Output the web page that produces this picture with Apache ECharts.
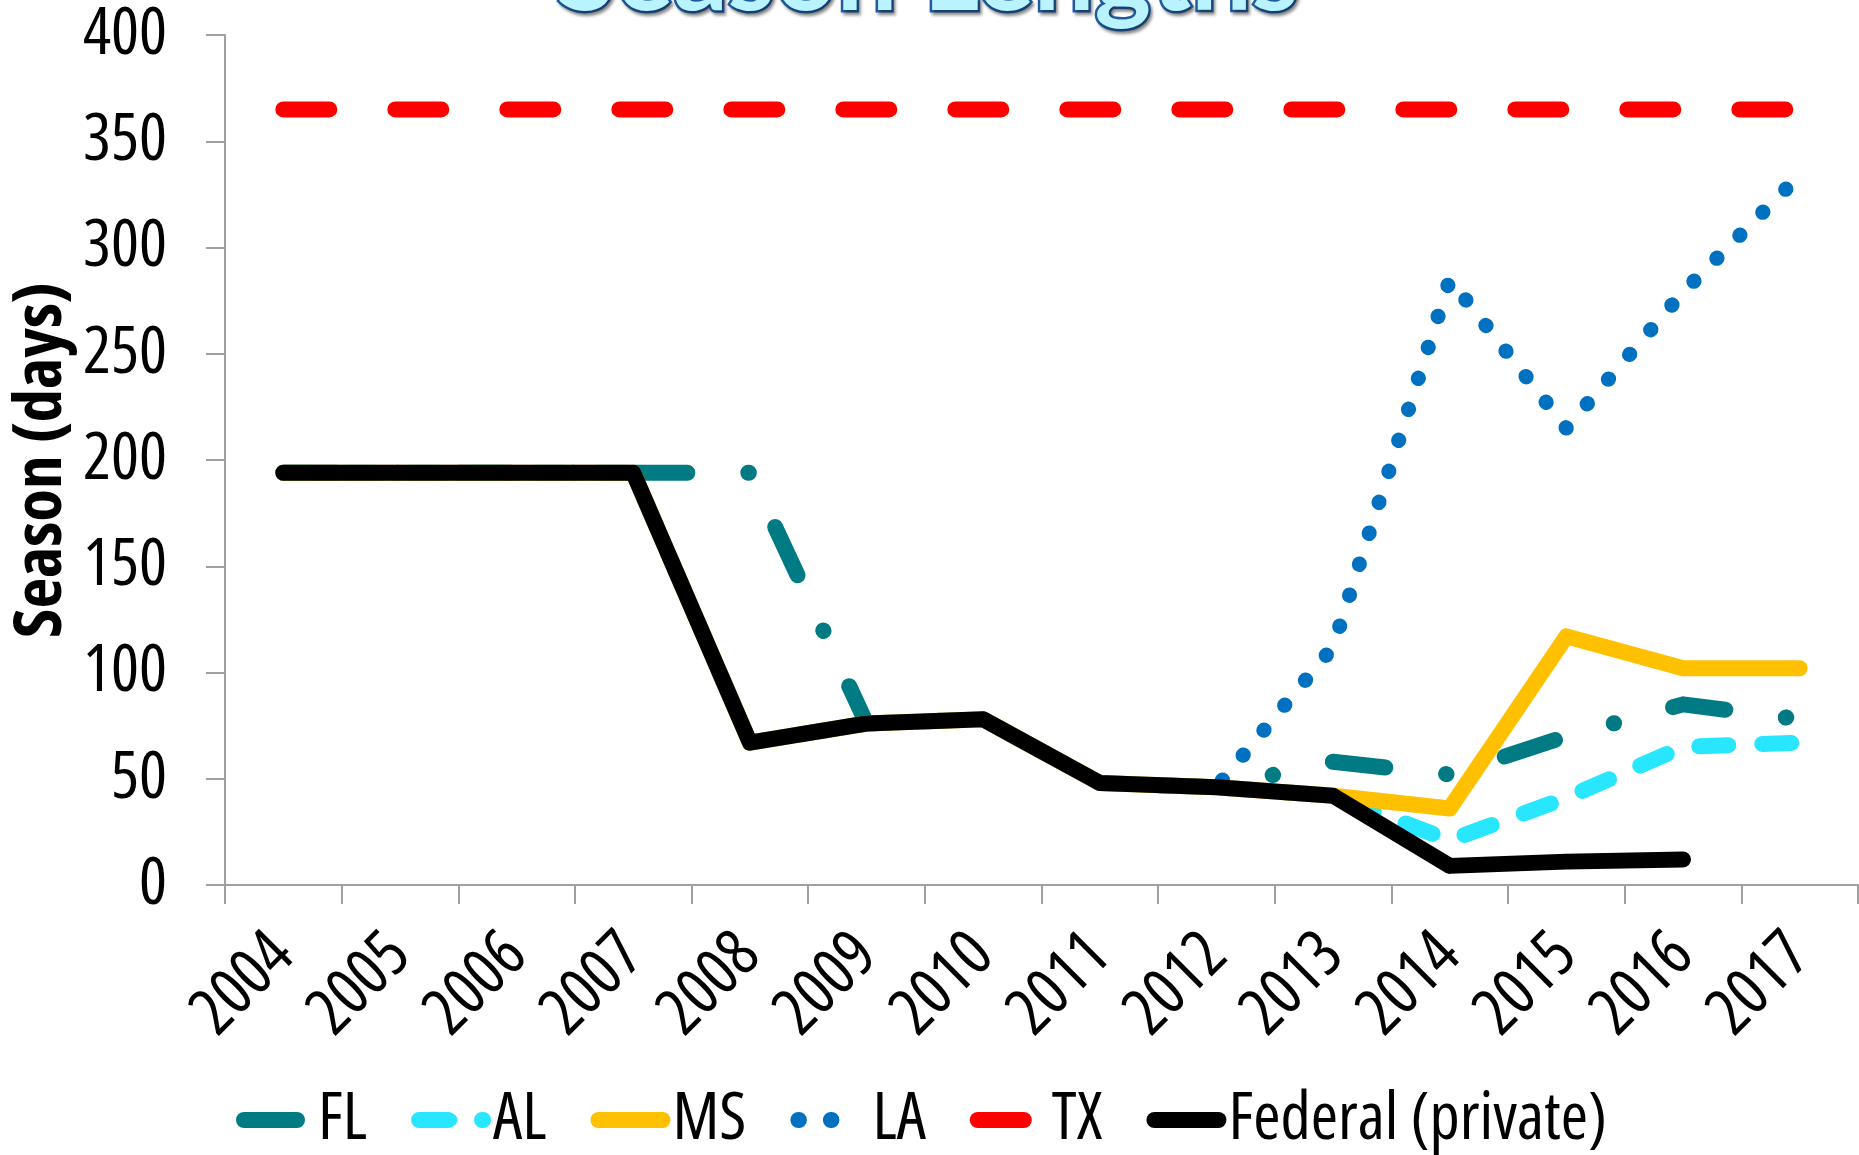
<!DOCTYPE html>
<html>
<head>
<meta charset="utf-8">
<script src="https://cdn.jsdelivr.net/npm/echarts@6/dist/echarts.min.js"></script>
<style>
  html, body { margin: 0; padding: 0; background: #ffffff; }
  #chart { width: 1859px; height: 1155px; }
</style>
</head>
<body>
<div id="chart"></div>
<script>
// ---- data ----
const years = ['2004','2005','2006','2007','2008','2009','2010','2011','2012','2013','2014','2015','2016','2017'];
const seriesNames = ['FL','AL','MS','LA','TX','Federal (private)'];
const flDays  = [194,194,194,194,194,76,78,48,46,58,52,70,85,78];
const alDays  = [194,194,194,194,67,76,78,48,46,42,21,41,65,67];
const msDays  = [194,194,194,194,67,76,78,48,46,42,36,117,102,102];
const laDays  = [194,194,194,194,67,76,78,48,46,112,285,215,279,334];
const txDays  = [365,365,365,365,365,365,365,365,365,365,365,365,365,365];
const fedDays = [194,194,194,194,67,76,78,48,46,42,9,11,12,null];
const yMin = 0, yMax = 400, yStep = 50;
const titleText = 'Season Lengths';
const yAxisTitle = 'Season (days)';

// ---- font selection (pick the closest installed narrow face) ----
const ctx = document.createElement('canvas').getContext('2d');
function w100(style, fam, weight, str) {
  ctx.font = style + ' ' + (weight || 'normal') + ' 100px ' + fam;
  return ctx.measureText(str).width;
}
const probe = 'Federal (private) 2004';
const monoW = w100('normal', 'monospace', 'normal', probe);
const candidates = [
  { fam: '"Liberation Sans Narrow"', style: 'normal' },
  { fam: '"Arial Narrow"', style: 'normal' },
  { fam: '"Nimbus Sans Narrow"', style: 'normal' },
  { fam: '"Noto Sans Condensed"', style: 'normal' },
  { fam: '"Noto Sans SemiCondensed"', style: 'normal' },
  { fam: '"Roboto Condensed"', style: 'normal' },
  { fam: '"Open Sans Condensed"', style: 'normal' },
  { fam: '"Noto Sans"', style: 'normal condensed' },
  { fam: '"Noto Sans"', style: 'normal semi-condensed' },
  { fam: '"Open Sans"', style: 'normal condensed' },
  { fam: '"DejaVu Sans"', style: 'normal condensed' },
  { fam: '"DejaVu Sans Condensed"', style: 'normal' },
  { fam: '"Liberation Sans"', style: 'normal' }
];
const TARGET = 601; // width of 'Federal (private)' at 100px in the reference face
let best = null;
for (const c of candidates) {
  const a = w100(c.style, c.fam + ', monospace', 'normal', probe);
  if (Math.abs(a - monoW) < 0.5) continue; // not installed
  const w = w100(c.style, c.fam + ', sans-serif', 'normal', 'Federal (private)');
  const d = Math.abs(w - TARGET);
  if (!best || d < best.d) best = { fam: c.fam, style: c.style, w: w, d: d };
}
if (!best) best = { fam: 'sans-serif', style: 'normal', w: w100('normal', 'sans-serif', 'normal', 'Federal (private)') };
const FONT = best.fam + ', sans-serif';
const FSTYLE = best.style;
const kReg = Math.max(0.75, Math.min(1.12, TARGET / best.w));
const boldW = w100(FSTYLE, FONT, 'bold', yAxisTitle);
const kBold = Math.max(0.75, Math.min(1.12, 556 / boldW));  // 'Season (days)' ~5.56em in narrow bold

const TITLE_FONT = "Lato, 'Open Sans', sans-serif";
ctx.font = 'bold 100px ' + TITLE_FONT;
const titleFs = 100 * 742 / ctx.measureText(titleText).width;

const chart = echarts.init(document.getElementById('chart'), null, { renderer: 'canvas' });
const axisGray = '#a0a0a0';
const labelFs = 63 * kReg;

function lineSeries(name, data, color, dash, width, z) {
  return {
    name: name, type: 'line', data: data,
    symbol: 'none', showSymbol: false, silent: true,
    connectNulls: false, z: z,
    lineStyle: { color: color, width: width, type: dash, cap: 'round', join: 'round' },
    itemStyle: { color: color },
    emphasis: { disabled: true }
  };
}

const option = {
  animation: false,
  backgroundColor: '#ffffff',
  grid: { left: 225, right: 1, top: 35, bottom: 270, containLabel: false, outerBoundsMode: 'none' },
  xAxis: {
    type: 'category', data: years, boundaryGap: true,
    axisLine: { show: true, lineStyle: { color: axisGray, width: 2 } },
    axisTick: { show: true, length: 19, lineStyle: { color: axisGray, width: 2 } },
    axisLabel: { rotate: 45, margin: 60, interval: 0, fontSize: labelFs, fontStyle: FSTYLE, color: '#000', fontFamily: FONT },
    splitLine: { show: false }
  },
  yAxis: {
    type: 'value', min: yMin, max: yMax, interval: yStep,
    name: yAxisTitle, nameLocation: 'middle', nameGap: 150, nameRotate: 90, nameMoveOverlap: false,
    nameTextStyle: { fontSize: 64 * kBold, fontWeight: 'bold', fontStyle: FSTYLE, fontFamily: FONT, color: '#000' },
    axisLine: { show: true, lineStyle: { color: axisGray, width: 2 } },
    axisTick: { show: true, length: 19, lineStyle: { color: axisGray, width: 2 } },
    axisLabel: { margin: 58, fontSize: labelFs, fontStyle: FSTYLE, color: '#000', fontFamily: FONT },
    splitLine: { show: false }
  },
  legend: {
    data: seriesNames, left: 236, top: 1087, orient: 'horizontal',
    itemWidth: 64, itemHeight: 16, itemGap: 44, padding: 0,
    lineStyle: { width: 16 },
    textStyle: { fontSize: labelFs, fontStyle: FSTYLE, fontFamily: FONT, color: '#000', lineHeight: 66, padding: [0, 0, 0, 5] },
    selectedMode: false
  },
  graphic: [{
    type: 'text', x: 928, y: 17 - 0.387 * titleFs, silent: true,
    style: {
      text: titleText, fontSize: titleFs, fontWeight: 'bold', fontFamily: TITLE_FONT,
      fill: '#b8f3ff', stroke: '#1f5c9f', lineWidth: 5,
      align: 'center', verticalAlign: 'middle',
      textShadowColor: 'rgba(0,0,0,0.35)', textShadowBlur: 3, textShadowOffsetX: 2, textShadowOffsetY: 3
    }
  }],
  series: [
    lineSeries('FL', flDays, '#007a83', [53, 61, 0.5, 61], 16, 2),
    lineSeries('AL', alDays, '#27e6fd', [29, 34], 16, 3),
    lineSeries('MS', msDays, '#ffc000', 'solid', 16, 4),
    lineSeries('LA', laDays, '#0070c0', [0.5, 32], 15, 5),
    lineSeries('TX', txDays, '#ff0000', [46, 66], 16, 6),
    lineSeries('Federal (private)', fedDays, '#000000', 'solid', 16, 7)
  ]
};
chart.setOption(option);
</script>
</body>
</html>
